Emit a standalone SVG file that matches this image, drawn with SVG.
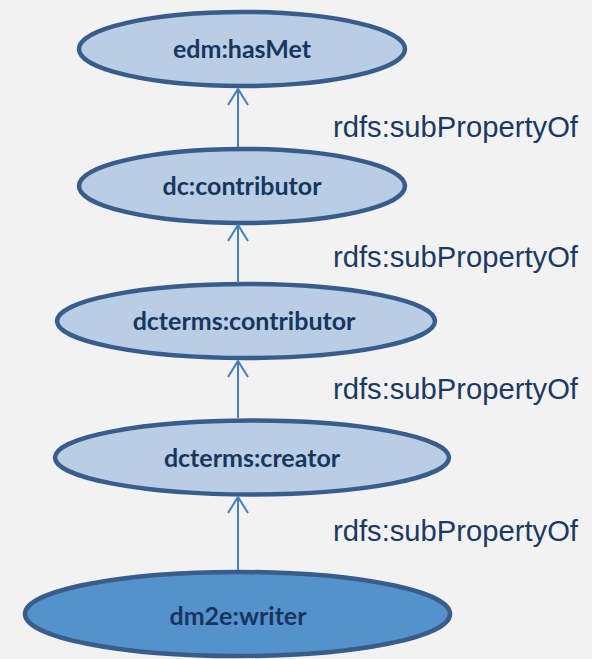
<svg xmlns="http://www.w3.org/2000/svg" width="592" height="659" viewBox="0 0 592 659">
<defs>
<style>
.node{fill:#b9cde5;stroke:#385d8a;stroke-width:4.5}
.node.main{fill:#5592cb}
.nt{font-family:Lato,"Open Sans",sans-serif;font-weight:bold;font-size:25px;fill:#17365d;text-anchor:middle}
.lbl{font-family:"Liberation Sans",Arial,sans-serif;font-size:29.2px;fill:#1b3a62}
.edge{stroke:#4a7ebb;stroke-width:2;fill:none}
</style>
</defs>
<rect width="592" height="659" fill="#f2f2f2"/>
<g id="n-hasMet"><ellipse class="node" cx="242" cy="49" rx="163" ry="37"/><text class="nt" x="242" y="58">edm:hasMet</text></g>
<g id="n-dc-contributor"><ellipse class="node" cx="242" cy="186" rx="163" ry="37"/><text class="nt" x="242" y="195">dc:contributor</text></g>
<g id="n-dcterms-contributor"><ellipse class="node" cx="246" cy="321" rx="189" ry="37"/><text class="nt" x="244" y="330">dcterms:contributor</text></g>
<g id="n-dcterms-creator"><ellipse class="node" cx="252" cy="457.5" rx="197" ry="37"/><text class="nt" x="252" y="467">dcterms:creator</text></g>
<g id="n-writer"><ellipse class="node main" cx="237.5" cy="614" rx="212.5" ry="42"/><text class="nt" x="238" y="625">dm2e:writer</text></g>
<g id="connectors">
<line class="edge" x1="238" y1="147" x2="238" y2="89"/>
<path class="edge" d="M228,105 L238,89 L248,105"/>
<line class="edge" x1="238" y1="283" x2="238" y2="225"/>
<path class="edge" d="M228,241 L238,225 L248,241"/>
<line class="edge" x1="238" y1="418" x2="238" y2="361"/>
<path class="edge" d="M228,377 L238,361 L248,377"/>
<line class="edge" x1="238" y1="570" x2="238" y2="497"/>
<path class="edge" d="M228,513 L238,497 L248,513"/>
</g>
<g id="labels">
<text class="lbl" x="333" y="137">rdfs:subPropertyOf</text>
<text class="lbl" x="333" y="267">rdfs:subPropertyOf</text>
<text class="lbl" x="333" y="399">rdfs:subPropertyOf</text>
<text class="lbl" x="333" y="541">rdfs:subPropertyOf</text>
</g>
</svg>
